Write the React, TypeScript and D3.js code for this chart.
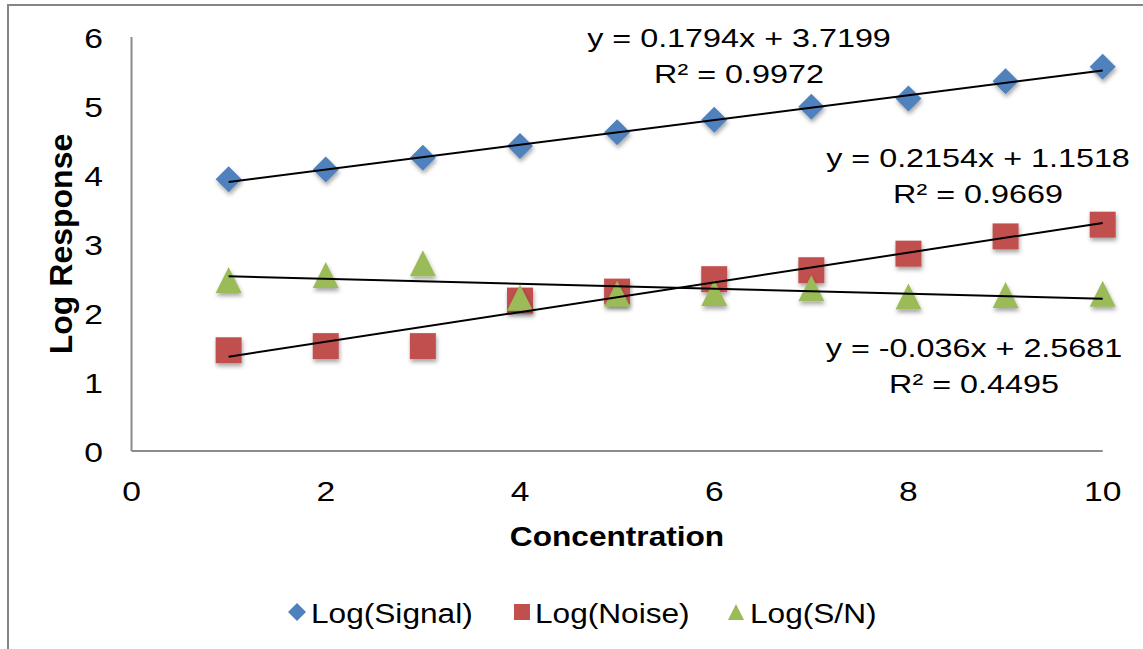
import React from "react";
import * as d3 from "d3";

const concentration = [1, 2, 3, 4, 5, 6, 7, 8, 9, 10];
const logSignal = [3.94, 4.08, 4.25, 4.42, 4.62, 4.8, 4.99, 5.11, 5.36, 5.57];
const logNoise = [1.46, 1.52, 1.52, 2.18, 2.31, 2.49, 2.62, 2.86, 3.11, 3.28];
const logSN = [2.48, 2.55, 2.72, 2.22, 2.28, 2.29, 2.36, 2.24, 2.26, 2.28];

const seriesNames = ["Log(Signal)", "Log(Noise)", "Log(S/N)"];
const seriesColors = ["#4F81BD", "#C0504D", "#9BBB59"];
const trendSlopes = [0.1794, 0.2154, -0.036];
const trendIntercepts = [3.7199, 1.1518, 2.5681];
const trendLabels = [
  ["y = 0.1794x + 3.7199", "R² = 0.9972"],
  ["y = 0.2154x + 1.1518", "R² = 0.9669"],
  ["y = -0.036x + 2.5681", "R² = 0.4495"],
];
const xTicks = [0, 2, 4, 6, 8, 10];
const yTicks = [0, 1, 2, 3, 4, 5, 6];

const W = 1143;
const H = 649;
const FONT = "'Liberation Sans', Arial, sans-serif";

export default function App() {
  const x = d3.scaleLinear().domain([0, 10]).range([131.5, 1102.7]);
  const y = d3.scaleLinear().domain([0, 6]).range([451, 37]);
  const allSeries = [logSignal, logNoise, logSN];

  const symbolFor = (i: number, size: number) => {
    const h = size / 2;
    if (i === 0) return `M0,${-h}L${h},0L0,${h}L${-h},0Z`;
    if (i === 1) return `M${-h},${-h}H${h}V${h}H${-h}Z`;
    return `M0,${-h}L${h},${h}L${-h},${h}Z`;
  };

  const eqPos = [
    { cx: 739, b1: 47, b2: 83 },
    { cx: 978, b1: 167, b2: 203 },
    { cx: 974, b1: 357, b2: 393 },
  ];

  const stretchedText = (
    key: string,
    tx: number,
    ty: number,
    txt: string,
    size: number,
    anchor: string,
    sx: number,
    weight = "normal"
  ) => (
    <text
      key={key}
      transform={`translate(${tx},${ty}) scale(${sx},1)`}
      textAnchor={anchor}
      fontSize={size}
      fontWeight={weight}
      fontFamily={FONT}
      fill="#000"
    >
      {txt}
    </text>
  );

  const legendItems = [
    { mx: 297, tx: 311 },
    { mx: 522, tx: 535 },
    { mx: 736, tx: 750 },
  ];

  return (
    <svg
      width={W}
      height={H}
      style={{ position: "absolute", left: 0, top: 0, background: "#fff" }}
    >
      <defs>
        <filter id="shadow" x="-50%" y="-50%" width="200%" height="200%">
          <feDropShadow dx="1" dy="3" stdDeviation="2" floodColor="#000" floodOpacity="0.35" />
        </filter>
      </defs>
      <rect x={0} y={0} width={W} height={H} fill="#fff" />
      <line x1={8} y1={5} x2={W} y2={5} stroke="#868686" strokeWidth={2} />
      <line x1={8} y1={4} x2={8} y2={H} stroke="#868686" strokeWidth={2} />

      <line x1={x(0)} y1={y(6)} x2={x(0)} y2={y(0)} stroke="#8c8c8c" strokeWidth={2} />
      <line x1={x(0)} y1={y(0)} x2={x(10)} y2={y(0)} stroke="#8c8c8c" strokeWidth={2} />

      {yTicks.map((t) => stretchedText(`yt${t}`, 103, y(t) + 10.5, String(t), 28.5, "end", 1.18))}
      {xTicks.map((t) => stretchedText(`xt${t}`, x(t), 500.5, String(t), 28.5, "middle", 1.18))}

      {stretchedText("xtitle", 617, 546, "Concentration", 27.5, "middle", 1.15, "bold")}
      <text
        transform={`translate(72,${(y(0) + y(6)) / 2}) rotate(-90)`}
        textAnchor="middle"
        fontSize={32}
        fontWeight="bold"
        fontFamily={FONT}
        fill="#000"
      >
        Log Response
      </text>

      {allSeries.map((vals, si) =>
        vals.map((v, i) => (
          <path
            key={`m${si}-${i}`}
            d={symbolFor(si, 26)}
            transform={`translate(${x(concentration[i])},${y(v)})`}
            fill={seriesColors[si]}
            filter="url(#shadow)"
          />
        ))
      )}

      {trendSlopes.map((m, si) => {
        const xs = [concentration[0], concentration[concentration.length - 1]];
        const pts = xs.map((xv) => y(m * xv + trendIntercepts[si]));
        const d = `M${x(xs[0])},${pts[0]}L${x(xs[1])},${pts[1]}`;
        return <path key={`tl${si}`} d={d} stroke="#000" strokeWidth={2} fill="none" />;
      })}

      {trendLabels.map((lbl, si) => (
        <g key={`eq${si}`}>
          {stretchedText(`eqa${si}`, eqPos[si].cx, eqPos[si].b1, lbl[0], 26.5, "middle", 1.22)}
          {stretchedText(`eqb${si}`, eqPos[si].cx, eqPos[si].b2, lbl[1], 26.5, "middle", 1.22)}
        </g>
      ))}

      {seriesNames.map((name, si) => (
        <g key={`lg${si}`}>
          <path
            d={symbolFor(si, si === 0 ? 18 : 16)}
            transform={`translate(${legendItems[si].mx},612)`}
            fill={seriesColors[si]}
          />
          {stretchedText(`lgt${si}`, legendItems[si].tx, 623, name, 27.5, "start", 1.15)}
        </g>
      ))}
    </svg>
  );
}
